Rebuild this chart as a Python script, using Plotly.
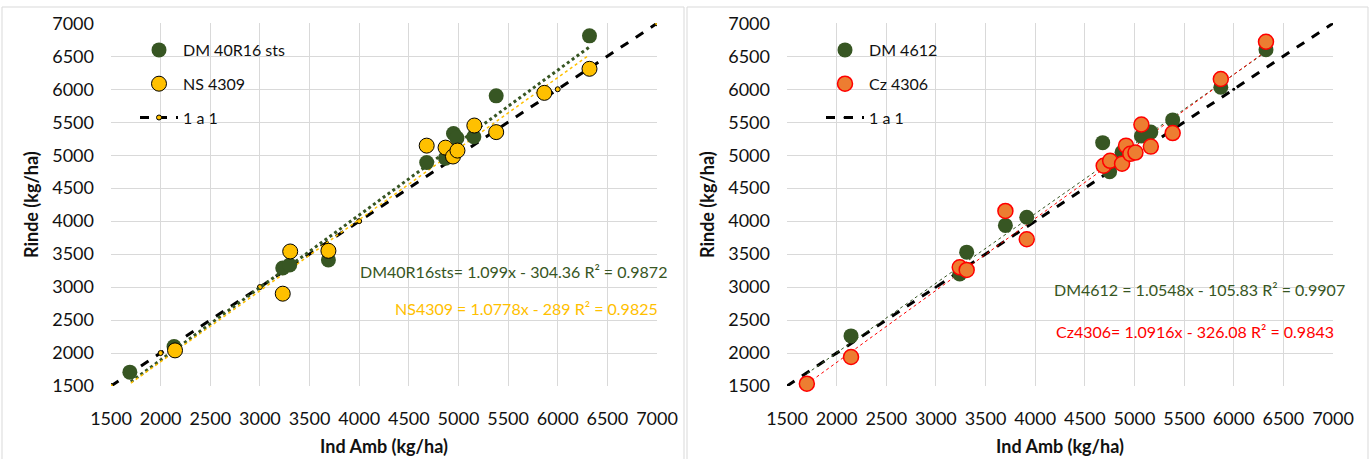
import plotly.graph_objects as go

W, H = 1370, 459

# ---------------- data ----------------
dm40_x = [1690, 2135, 3230, 3300, 3690, 4680, 4870, 4950, 4985, 5155, 5380, 6320]
dm40_y = [1710, 2100, 3290, 3335, 3410, 4890, 4955, 5330, 5260, 5280, 5900, 6810]

ns_x = [2145, 3230, 3305, 3690, 4680, 4870, 4945, 4990, 5160, 5380, 5865, 6320]
ns_y = [2040, 2900, 3540, 3550, 5145, 5115, 4980, 5070, 5450, 5350, 5945, 6310]

dm46_x = [2145, 3240, 3310, 3700, 3915, 4680, 4750, 4875, 5070, 5165, 5385, 5870, 6325]
dm46_y = [2260, 3200, 3530, 3935, 4060, 5190, 4750, 5045, 5290, 5350, 5535, 6030, 6600]

cz_x = [1700, 2145, 3240, 3310, 3700, 3915, 4690, 4755, 4875, 4915, 4958, 5010, 5070, 5165, 5385, 5870, 6325]
cz_y = [1535, 1940, 3300, 3260, 4155, 3725, 4840, 4915, 4870, 5145, 5020, 5040, 5465, 5130, 5335, 6155, 6720]

one_x = [1500, 2000, 3000, 4000, 5000, 6000, 7000]
one_y = [1500, 2000, 3000, 4000, 5000, 6000, 7000]

# trendline coefficients (slope, intercept) and x extent
trend_left = {"DM40R16sts": (1.099, -304.36), "NS4309": (1.0778, -289.0)}
trend_right = {"DM4612": (1.0548, -105.83), "Cz4306": (1.0916, -326.08)}
trend_x = [1700, 6320]

eq_texts = ["DM40R16sts= 1.099x - 304.36 R² = 0.9872",
            "NS4309 = 1.0778x - 289 R² = 0.9825",
            "DM4612 = 1.0548x - 105.83 R² = 0.9907",
            "Cz4306= 1.0916x - 326.08 R² = 0.9843"]

ticks = list(range(1500, 7001, 500))

GREEN = "#375623"
YELLOW = "#FFC000"
ORANGE = "#ED7D31"
RED = "#FF0000"
FONT = "Lato"

fig = go.Figure()

def tl(coef, xs):
    m, b = coef
    return [m * x + b for x in xs]

# ---------------- left chart ----------------
fig.add_trace(go.Scatter(x=one_x, y=one_y, mode="lines+markers", name="1 a 1",
                         line=dict(color="black", width=3, dash="dash"),
                         marker=dict(size=5, color=YELLOW, line=dict(color="black", width=1)),
                         xaxis="x", yaxis="y", legend="legend", legendrank=3))
fig.add_trace(go.Scatter(x=trend_x, y=tl(trend_left["DM40R16sts"], trend_x), mode="lines",
                         line=dict(color=GREEN, width=3, dash="dot"), showlegend=False,
                         xaxis="x", yaxis="y", hoverinfo="skip"))
fig.add_trace(go.Scatter(x=trend_x, y=tl(trend_left["NS4309"], trend_x), mode="lines",
                         line=dict(color=YELLOW, width=1.5, dash="dot"), showlegend=False,
                         xaxis="x", yaxis="y", hoverinfo="skip"))
fig.add_trace(go.Scatter(x=dm40_x, y=dm40_y, mode="markers", name="DM 40R16 sts",
                         marker=dict(size=15, color=GREEN), cliponaxis=False,
                         xaxis="x", yaxis="y", legend="legend", legendrank=1))
fig.add_trace(go.Scatter(x=ns_x, y=ns_y, mode="markers", name="NS 4309",
                         marker=dict(size=15, color=YELLOW, line=dict(color="black", width=1)),
                         cliponaxis=False,
                         xaxis="x", yaxis="y", legend="legend", legendrank=2))

# ---------------- right chart ----------------
fig.add_trace(go.Scatter(x=one_x, y=one_y, mode="lines+markers", name="1 a 1",
                         line=dict(color="black", width=3, dash="dash"),
                         marker=dict(size=3, color="black"),
                         xaxis="x2", yaxis="y2", legend="legend2", legendrank=3))
fig.add_trace(go.Scatter(x=trend_x, y=tl(trend_right["DM4612"], trend_x), mode="lines",
                         line=dict(color=GREEN, width=1, dash="dot"), showlegend=False,
                         xaxis="x2", yaxis="y2", hoverinfo="skip"))
fig.add_trace(go.Scatter(x=trend_x, y=tl(trend_right["Cz4306"], trend_x), mode="lines",
                         line=dict(color=RED, width=1, dash="dot"), showlegend=False,
                         xaxis="x2", yaxis="y2", hoverinfo="skip"))
fig.add_trace(go.Scatter(x=dm46_x, y=dm46_y, mode="markers", name="DM 4612",
                         marker=dict(size=15, color=GREEN), cliponaxis=False,
                         xaxis="x2", yaxis="y2", legend="legend2", legendrank=1))
fig.add_trace(go.Scatter(x=cz_x, y=cz_y, mode="markers", name="Cz 4306",
                         marker=dict(size=15, color=ORANGE, line=dict(color=RED, width=1.5)),
                         cliponaxis=False,
                         xaxis="x2", yaxis="y2", legend="legend2", legendrank=2))

# give each legend item its own group to space rows
for i, tr in enumerate(fig.data):
    tr.legendgroup = f"g{i}"

def px_x(p):
    return p / W

def px_y(p):
    return 1 - p / H

axis_common = dict(range=[1500, 7000], tickvals=ticks, showgrid=True, gridcolor="#D9D9D9",
                   gridwidth=1, zeroline=False, showline=False, ticks="", automargin=False,
                   tickfont=dict(family=FONT, size=18, color="#111"),
                   fixedrange=True)

fig.update_layout(
    width=W, height=H,
    margin=dict(l=0, r=0, t=0, b=0, autoexpand=False),
    paper_bgcolor="white", plot_bgcolor="white",
    font=dict(family=FONT, color="#111"),
    xaxis=dict(domain=[px_x(111), px_x(657)], anchor="y", ticklabelstandoff=20,
               title=dict(text="<b>Ind Amb (kg/ha)</b>", font=dict(family=FONT, size=18), standoff=12),
               **axis_common),
    yaxis=dict(domain=[px_y(386), px_y(23.3)], anchor="x", ticklabelstandoff=16,
               title=dict(text="<b>Rinde (kg/ha)</b>", font=dict(family=FONT, size=18), standoff=8),
               **axis_common),
    xaxis2=dict(domain=[px_x(787), px_x(1333)], anchor="y2", ticklabelstandoff=20,
                title=dict(text="<b>Ind Amb (kg/ha)</b>", font=dict(family=FONT, size=18), standoff=12),
                **axis_common),
    yaxis2=dict(domain=[px_y(386), px_y(23.3)], anchor="x2", ticklabelstandoff=16,
                title=dict(text="<b>Rinde (kg/ha)</b>", font=dict(family=FONT, size=18), standoff=8),
                **axis_common),
    legend=dict(x=px_x(135), y=px_y(33), xanchor="left", yanchor="top",
                bgcolor="rgba(0,0,0,0)", font=dict(family=FONT, size=16, color="#111"),
                traceorder="grouped", tracegroupgap=10, itemwidth=38),
    legend2=dict(x=px_x(821), y=px_y(33), xanchor="left", yanchor="top",
                 bgcolor="rgba(0,0,0,0)", font=dict(family=FONT, size=16, color="#111"),
                 traceorder="grouped", tracegroupgap=10, itemwidth=38),
    showlegend=True,
)

annos = [
    (eq_texts[0], "x", "y", 3990, 3230, GREEN),
    (eq_texts[1], "x", "y", 4340, 2670, YELLOW),
    (eq_texts[2], "x2", "y2", 4170, 2960, GREEN),
    (eq_texts[3], "x2", "y2", 4190, 2330, RED),
]
for text, xr, yr, xv, yv, col in annos:
    fig.add_annotation(text=text, x=xv, y=yv, xref=xr, yref=yr, xanchor="left", yanchor="middle",
                       showarrow=False, font=dict(family=FONT, size=16, color=col))

# chart frames
for x0, x1 in [(2, 684), (687, 1368)]:
    fig.add_shape(type="rect", xref="paper", yref="paper",
                  x0=px_x(x0), x1=px_x(x1), y0=px_y(462), y1=px_y(7),
                  line=dict(color="#D9D9D9", width=1), fillcolor="rgba(0,0,0,0)", layer="below")

fig.write_html("out.html", config={"displayModeBar": False},
               post_script="document.body.style.margin='0';")
